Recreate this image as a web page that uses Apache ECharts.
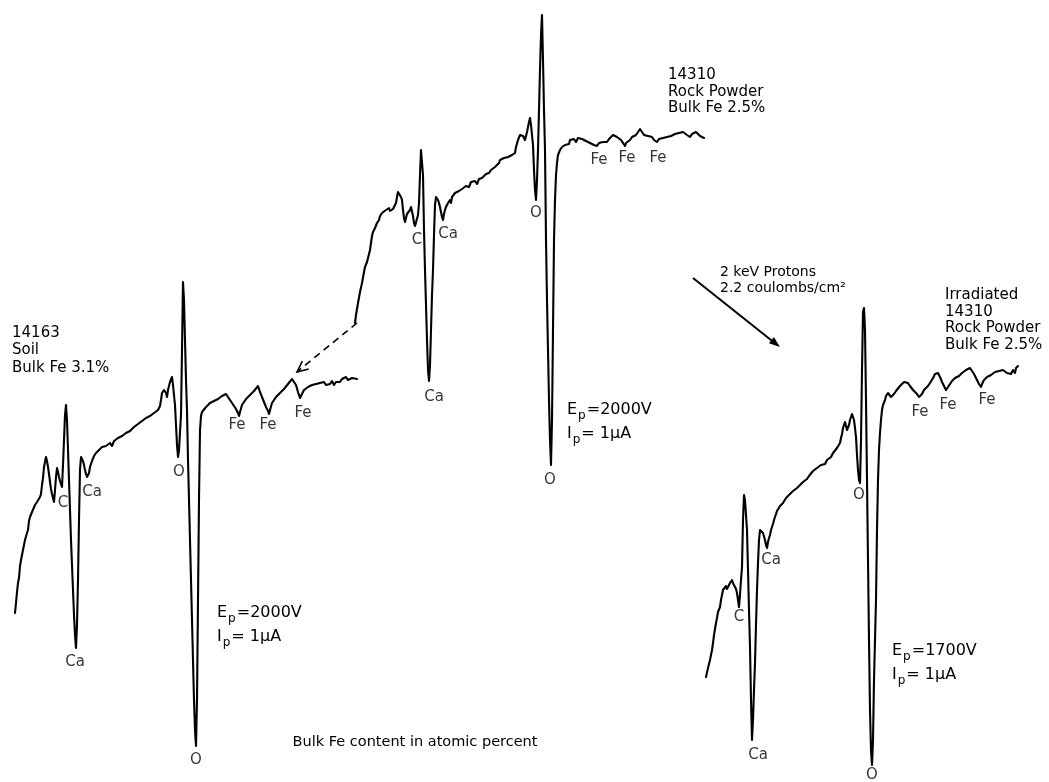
<!DOCTYPE html>
<html><head><meta charset="utf-8">
<script src="https://cdn.jsdelivr.net/npm/echarts@6/dist/echarts.min.js"></script>
<style>html,body{margin:0;padding:0;background:#fff}#c{width:1049px;height:782px}</style>
</head><body><div id="c"></div>
<script>
// Auger spectra (dN/dE, arbitrary units) vs. recorder position (arbitrary units)
const soil14163 = [[0,137],[1,147],[2,158],[3,167],[4,172],[5,184],[6,190],[8,200],[9,202],[10,210],[12,217],[13,220],[14,229],[15,233],[16,231],[17,238],[18,240],[19,238],[20,245],[21,243],[22,248],[23,250],[24,249],[25,253],[26,256],[27,265],[28,272],[29,283],[30,288],[31,293],[32,289],[33,283],[34,276],[35,268],[36,261],[37,256],[38,254],[39,248],[40,260],[41,273],[42,282],[43,278],[44,273],[45,269],[46,266],[47,263],[48,285],[49,310],[50,335],[51,345],[52,330],[53,300],[54,270],[55,240],[56,210],[57,185],[58,160],[59,135],[60,115],[61,102],[62,125],[63,170],[64,230],[65,280],[66,293],[67,292],[68,289],[69,285],[70,280],[71,276],[72,273],[73,272],[74,277],[75,283],[76,285],[77,289],[78,289],[79,294],[80,292],[81,297],[82,298],[83,295],[84,300],[85,299],[87,303],[89,301],[91,304],[93,302],[95,307],[97,304],[99,309],[101,307],[103,312],[105,310],[107,314],[109,312],[111,317],[113,315],[115,319],[117,318],[119,323],[121,321],[123,326],[125,324],[127,329],[129,328],[131,332],[133,330],[135,334],[137,333],[139,337],[141,336],[143,340],[145,344],[146,350],[147,357],[148,355],[149,360],[150,362],[151,357],[152,353],[153,360],[155,368],[157,373],[158,365],[159,355],[160,345],[161,325],[162,305],[163,293],[164,300],[165,318],[166,335],[167,400],[168,468],[169,450],[170,410],[171,370],[172,340],[173,290],[174,250],[175,210],[176,170],[177,130],[178,90],[179,50],[180,20],[181,4],[182,50],[183,150],[184,250],[185,320],[186,334],[187,338],[189,340],[191,343],[193,342],[195,347],[197,345],[199,349],[201,347],[203,351],[205,352],[207,354],[209,353],[211,356],[213,354],[215,350],[217,348],[219,344],[221,341],[223,337],[224,334],[225,338],[227,345],[229,346],[231,351],[233,350],[235,355],[237,356],[239,359],[241,361],[243,364],[245,358],[247,353],[249,348],[251,343],[253,339],[254,336],[255,340],[257,347],[259,349],[261,353],[263,352],[265,357],[267,358],[269,361],[271,362],[273,366],[275,367],[277,371],[279,368],[281,365],[283,358],[285,352],[287,356],[289,360],[291,361],[293,363],[295,362],[297,365],[299,364],[301,366],[303,365],[305,367],[307,366],[309,368],[311,365],[313,367],[315,366],[317,369],[319,365],[321,368],[323,370],[325,368],[327,371],[329,369],[331,373],[333,370],[335,369],[337,372],[339,370],[342,371]];

const rock14310 = [[0,147],[1,155],[3,167],[5,178],[7,187],[9,198],[10,203],[12,208],[13,210],[14,216],[15,220],[16,227],[17,234],[18,238],[20,242],[22,247],[24,250],[25,254],[27,257],[29,256],[31,260],[32,259],[34,262],[35,259],[37,258],[38,261],[40,263],[41,267],[42,273],[43,278],[44,280],[45,277],[46,273],[47,270],[48,260],[49,252],[50,248],[51,252],[52,256],[53,257],[55,260],[56,263],[57,262],[58,254],[59,247],[60,244],[61,242],[62,242],[63,255],[64,267],[65,295],[66,320],[67,322],[68,295],[69,240],[70,200],[71,165],[72,130],[73,100],[74,89],[75,105],[76,140],[77,175],[78,200],[79,235],[80,265],[81,273],[82,272],[83,270],[84,267],[85,263],[86,258],[87,253],[88,250],[89,256],[90,260],[91,263],[92,262],[93,267],[94,266],[95,270],[96,267],[97,273],[98,271],[100,277],[102,275],[104,279],[105,278],[107,281],[109,279],[111,284],[112,285],[114,283],[116,288],[118,287],[120,289],[122,286],[124,291],[125,290],[127,292],[129,291],[131,296],[132,295],[134,297],[136,300],[138,299],[140,303],[142,301],[144,307],[145,310],[147,308],[149,312],[151,310],[153,313],[155,313],[157,315],[159,314],[160,317],[161,323],[163,330],[165,335],[167,337],[168,334],[170,330],[172,338],[174,348],[175,352],[176,345],[177,335],[178,325],[179,300],[180,280],[181,270],[182,290],[183,320],[184,360],[185,400],[186,435],[187,455],[188,410],[189,360],[190,320],[191,230],[192,170],[193,120],[194,70],[195,30],[196,5],[197,50],[198,140],[199,230],[200,270],[201,295],[202,307],[203,315],[205,320],[207,323],[209,321],[210,325],[212,327],[214,326],[215,330],[217,330],[219,331],[221,328],[223,332],[225,333],[227,331],[229,332],[231,329],[233,330],[235,327],[237,328],[239,325],[241,326],[242,324],[244,327],[246,326],[248,328],[250,326],[252,328],[254,331],[256,333],[258,335],[260,335],[262,333],[264,332],[266,330],[268,327],[270,324],[271,327],[273,329],[275,330],[277,333],[279,332],[281,335],[283,337],[285,341],[287,338],[289,335],[291,333],[293,334],[295,332],[297,333],[299,330],[301,331],[302,328],[304,331],[306,330],[308,332],[310,331],[312,333],[314,332],[316,334],[318,335],[320,336],[322,338],[324,337],[326,339],[328,338],[330,336],[332,335],[334,334],[335,333],[337,336],[339,337],[341,338],[343,337],[345,334],[347,334],[349,332]];

const irradiated14310 = [[0,93],[2,102],[4,110],[6,120],[7,127],[8,135],[10,147],[11,152],[12,158],[14,163],[15,170],[16,175],[17,180],[19,182],[20,184],[21,181],[22,182],[24,187],[26,190],[27,187],[28,188],[29,185],[30,181],[31,177],[32,170],[33,163],[34,175],[35,190],[36,203],[37,250],[38,275],[39,270],[40,255],[41,240],[42,200],[43,160],[44,123],[45,70],[46,30],[47,50],[48,80],[49,107],[50,145],[51,180],[52,207],[53,230],[54,240],[55,242],[56,240],[57,237],[58,235],[59,230],[60,225],[61,222],[62,228],[63,232],[64,235],[65,240],[66,243],[67,246],[68,250],[69,253],[70,254],[71,259],[73,260],[74,264],[76,263],[77,267],[79,268],[80,272],[82,270],[84,276],[86,275],[87,279],[89,277],[91,282],[93,281],[94,285],[96,284],[97,288],[99,287],[101,291],[103,294],[105,293],[107,299],[109,298],[111,302],[113,301],[115,305],[117,307],[119,306],[121,310],[123,312],[125,313],[127,317],[129,318],[131,322],[133,324],[134,327],[135,332],[136,336],[137,342],[138,345],[139,348],[140,344],[141,340],[142,340],[143,345],[144,350],[145,353],[146,356],[147,357],[148,350],[149,342],[150,333],[151,315],[152,300],[153,290],[154,287],[155,330],[156,400],[157,458],[158,462],[159,440],[160,370],[161,290],[162,210],[163,130],[164,60],[165,20],[166,5],[167,30],[168,90],[170,170],[171,240],[172,290],[173,320],[174,337],[175,350],[176,360],[177,365],[179,370],[180,374],[182,377],[184,375],[185,373],[187,373],[188,376],[190,379],[192,381],[194,384],[196,386],[198,388],[200,390],[202,387],[204,384],[205,382],[207,380],[209,378],[211,376],[213,373],[215,373],[216,376],[218,380],[220,382],[222,384],[224,387],[226,388],[227,392],[229,396],[231,398],[232,397],[233,395],[234,393],[236,388],[238,384],[240,380],[242,382],[244,386],[246,389],[247,390],[249,392],[251,394],[253,394],[255,395],[256,397],[258,399],[260,400],[262,401],[264,402],[266,399],[268,396],[270,395],[271,390],[273,386],[275,383],[276,386],[278,390],[280,392],[281,393],[283,394],[285,395],[287,397],[289,398],[291,396],[293,399],[295,397],[297,400],[299,400],[301,397],[303,399],[305,396],[307,400],[309,397],[310,402],[312,404]];

// Peak identification labels [name, position, signal]
const soilPeaks = [["C",48,247],["Ca",77,258],["Ca",60,88],["O",164,278],["O",181,-10],["Fe",222,325],["Fe",253,325],["Fe",288,337]];
const rockPeaks = [["C",62,230],["Ca",93,236],["Ca",79,73],["O",181,257],["O",195,-10],["Fe",244,310],["Fe",272,312],["Fe",303,312]];
const irrPeaks  = [["C",33,153],["Ca",65,210],["Ca",52,15],["O",153,275],["O",166,-5],["Fe",214,358],["Fe",242,365],["Fe",281,370]];

const FONT = '"DejaVu Sans", "Liberation Sans", sans-serif';
const chart = echarts.init(document.getElementById('c'), null, {renderer:'canvas'});

const grids = [
  {left:15, top:270, width:345, height:500},
  {left:355, top:0, width:355, height:490},
  {left:706, top:290, width:320, height:490}
];
const xr = [[0,345],[0,355],[0,320]];
const yr = [[-20,480],[-20,470],[-10,480]];
const traces = [soil14163, rock14310, irradiated14310];
const peaks = [soilPeaks, rockPeaks, irrPeaks];

const series = [];
traces.forEach((d,i)=>{
  series.push({type:'line', xAxisIndex:i, yAxisIndex:i, data:d, showSymbol:false, symbol:'none',
    lineStyle:{color:'#000', width:2.1, join:'round', cap:'round'}, animation:false, silent:true});
  series.push({type:'scatter', xAxisIndex:i, yAxisIndex:i, clip:false, symbolSize:1,
    itemStyle:{color:'rgba(0,0,0,0)'}, animation:false, silent:true,
    data:peaks[i].map(p=>({name:p[0], value:[p[1],p[2]]})),
    label:{show:true, position:'inside', formatter:'{b}', color:'#000', fontSize:15, fontFamily:FONT},
    labelLayout:{hideOverlap:false}});
});

function txt(x,y,text,size,lh,extra){
  return Object.assign({type:'text', x:x, y:y, silent:true,
    style:{text:text, fill:'#000', font: size+'px '+FONT, lineHeight:lh, verticalAlign:'top', align:'left'}}, extra||{});
}
function epText(x,y,ep){
  return {type:'text', x:x, y:y, silent:true, style:{
    text:'{n|E}{s|p}{n|='+ep+'}\n{n|I}{s|p}{n|= 1μA}',
    fill:'#000',
    rich:{
      n:{fontSize:16, fontFamily:FONT, lineHeight:24, verticalAlign:'top', fill:'#000'},
      s:{fontSize:12, fontFamily:FONT, lineHeight:24, verticalAlign:'top', padding:[8,1,0,1], fill:'#000'}
    }
  }};
}

const graphics = [
  txt(12,324,'14163\nSoil\nBulk Fe 3.1%',15,17.5),
  txt(668,67,'14310\nRock Powder\nBulk Fe 2.5%',15,16.5),
  txt(720,264,'2 keV Protons\n2.2 coulombs/cm²',14,16.5),
  txt(945,287,'Irradiated\n14310\nRock Powder\nBulk Fe 2.5%',15,16.5),
  epText(217,605,'2000V'),
  epText(567,402,'2000V'),
  epText(892,643,'1700V'),
  {type:'text', x:415, y:742, silent:true, style:{text:'Bulk Fe content in atomic percent', fill:'#000', font:'14.5px '+FONT, align:'center', verticalAlign:'middle'}},
  // irradiation arrow
  {type:'line', silent:true, shape:{x1:693,y1:278,x2:776,y2:344}, style:{stroke:'#000', lineWidth:2}},
  {type:'polygon', silent:true, shape:{points:[[780,347],[768.9,343.3],[773.9,337.1]]}, style:{fill:'#000'}},
  // dashed comparison arrow
  {type:'line', silent:true, shape:{x1:357,y1:323,x2:298,y2:371}, style:{stroke:'#000', lineWidth:1.6, lineDash:[7,5]}},
  {type:'polyline', silent:true, shape:{points:[[308.7,368.9],[297,372],[302.3,361.1]]}, style:{stroke:'#000', lineWidth:1.6, fill:null}}
];

chart.setOption({
  backgroundColor:'#fff',
  animation:false,
  grid: grids,
  xAxis: xr.map((r,i)=>({type:'value', gridIndex:i, min:r[0], max:r[1], show:false})),
  yAxis: yr.map((r,i)=>({type:'value', gridIndex:i, min:r[0], max:r[1], show:false})),
  series: series,
  graphic: graphics
});
</script></body></html>
